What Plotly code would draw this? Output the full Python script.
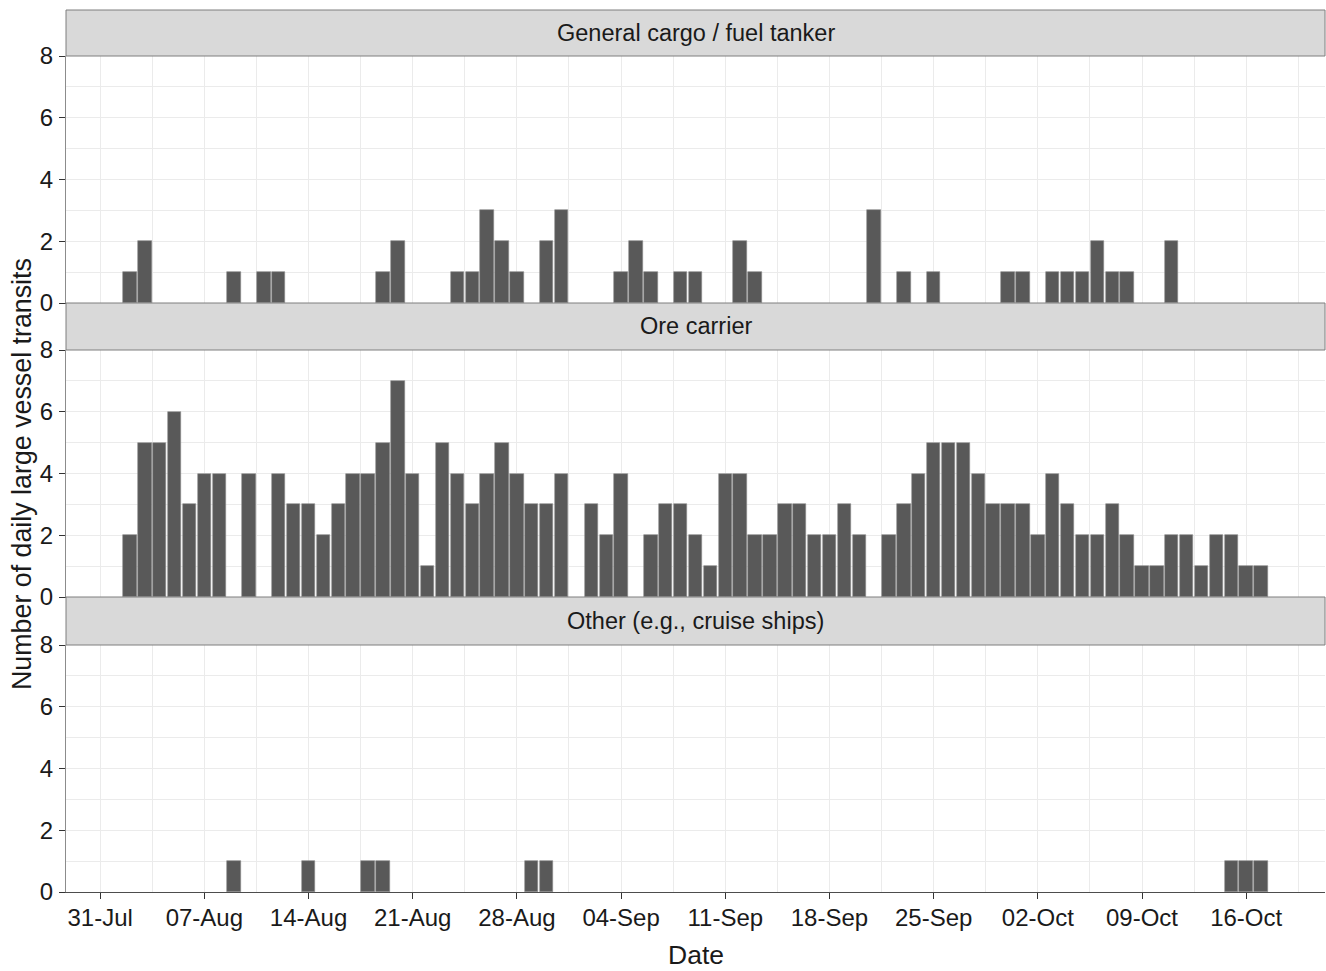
import pandas as pd
import plotly.graph_objects as go

# Daily large vessel transits, 2 Aug - 17 Oct
first_day = "2022-08-02"
panel_titles = ["General cargo / fuel tanker", "Ore carrier", "Other (e.g., cruise ships)"]

general_cargo_aug = [1, 2, 0, 0, 0, 0, 0, 1, 0, 1,
                     1, 0, 0, 0, 0, 0, 0, 1, 2, 0,
                     0, 0, 1, 1, 3, 2, 1, 0, 2, 3]
general_cargo_sep = [0, 0, 0, 1, 2, 1, 0, 1, 1, 0,
                     0, 2, 1, 0, 0, 0, 0, 0, 0, 0,
                     3, 0, 1, 0, 1, 0, 0, 0, 0, 1]
general_cargo_oct = [1, 0, 1, 1, 1, 2, 1, 1, 0, 0, 2, 0, 0, 0, 0, 0, 0]

ore_carrier_aug = [2, 5, 5, 6, 3, 4, 4, 0, 4, 0,
                   4, 3, 3, 2, 3, 4, 4, 5, 7, 4,
                   1, 5, 4, 3, 4, 5, 4, 3, 3, 4]
ore_carrier_sep = [0, 3, 2, 4, 0, 2, 3, 3, 2, 1,
                   4, 4, 2, 2, 3, 3, 2, 2, 3, 2,
                   0, 2, 3, 4, 5, 5, 5, 4, 3, 3]
ore_carrier_oct = [3, 2, 4, 3, 2, 2, 3, 2, 1, 1, 2, 2, 1, 2, 2, 1, 1]

other_aug = [0, 0, 0, 0, 0, 0, 0, 1, 0, 0,
             0, 0, 1, 0, 0, 0, 1, 1, 0, 0,
             0, 0, 0, 0, 0, 0, 0, 1, 1, 0]
other_sep = [0] * 30
other_oct = [0] * 14 + [1, 1, 1]

series = [
    general_cargo_aug + general_cargo_sep + general_cargo_oct,
    ore_carrier_aug + ore_carrier_sep + ore_carrier_oct,
    other_aug + other_sep + other_oct,
]

y_ticks = [0, 2, 4, 6, 8]
x_tick_start = "2022-07-31"

dates = pd.date_range(first_day, periods=len(series[0]), freq="D")
DAY_MS = 86400000
bar_width = 0.9 * DAY_MS

# x range with 5% padding around the bars
half = pd.Timedelta(hours=0.45 * 24)
lo = dates[0] - half
hi = dates[-1] + half
pad = (hi - lo) * 0.05
x_range = [lo - pad, hi + pad]

# Figure geometry (pixels from top of figure)
W, H = 1326, 971
top_m, bot_m, left_m, right_m = 10, 79, 66, 1
plot_h = H - top_m - bot_m
plot_w = W - left_m - right_m
strip_tops = [10, 303, 597]
panel_tops = [56, 350, 645]
panel_bots = [303, 597, 892]


def fy(px):
    """Pixel row -> paper fraction."""
    return (H - bot_m - px) / plot_h


FONT = "Liberation Sans, Arial, sans-serif"
TXT = "#1a1a1a"
GRID = "#EBEBEB"
BAR = "#595959"

fig = go.Figure()
layout = dict(
    width=W, height=H,
    margin=dict(l=left_m, r=right_m, t=top_m, b=bot_m, autoexpand=False),
    paper_bgcolor="white", plot_bgcolor="white",
    showlegend=False, bargap=0,
    font=dict(family=FONT, color=TXT),
)

shapes, annotations = [], []
for i, (title, vals) in enumerate(zip(panel_titles, series)):
    n = i + 1
    suffix = "" if n == 1 else str(n)
    d0, d1, s1 = fy(panel_bots[i]), fy(panel_tops[i]), fy(strip_tops[i])

    days = [d for d, v in zip(dates, vals) if v > 0]
    counts = [v for v in vals if v > 0]
    fig.add_trace(go.Bar(
        x=days, y=counts, width=bar_width,
        marker=dict(color=BAR, line=dict(color="#8a8a8a", width=0.6)),
        xaxis="x" + suffix, yaxis="y" + suffix,
        hovertemplate="%{x|%d-%b}: %{y}<extra></extra>",
    ))

    last = n == len(panel_titles)
    layout["xaxis" + suffix] = dict(
        type="date", range=x_range, domain=[0, 1], anchor="y" + suffix,
        tick0=x_tick_start, dtick=7 * DAY_MS, tickformat="%d-%b",
        showgrid=True, gridcolor=GRID, gridwidth=1.1,
        minor=dict(tick0=x_tick_start, dtick=3.5 * DAY_MS, showgrid=True,
                   gridcolor=GRID, gridwidth=0.55),
        showticklabels=last, ticks="outside" if last else "",
        ticklen=6, tickcolor="#333333", tickwidth=1.1,
        ticklabelstandoff=-2,
        tickfont=dict(size=24, color=TXT, family=FONT),
        showline=True, linecolor="#4d4d4d", linewidth=1.3,
        zeroline=False, fixedrange=True, automargin=False,
    )
    if not last:
        layout["xaxis" + suffix]["matches"] = "x3"
    layout["yaxis" + suffix] = dict(
        range=[0, 8], domain=[d0, d1], anchor="x" + suffix,
        tickvals=y_ticks, ticks="outside", ticklen=6,
        tickcolor="#333333", tickwidth=1.1,
        ticklabelstandoff=1,
        tickfont=dict(size=24, color=TXT, family=FONT),
        showgrid=True, gridcolor=GRID, gridwidth=1.1,
        minor=dict(dtick=1, showgrid=True, gridcolor=GRID, gridwidth=0.55),
        showline=True, linecolor="#8c8c8c", linewidth=1,
        zeroline=False, fixedrange=True, automargin=False,
    )

    # facet strip
    shapes.append(dict(type="rect", xref="paper", yref="paper",
                       x0=0, x1=1, y0=d1, y1=s1,
                       fillcolor="#D9D9D9", line=dict(color="#7f7f7f", width=1),
                       layer="above"))
    annotations.append(dict(text=title, xref="paper", yref="paper",
                            x=0.5, y=(d1 + s1) / 2, xanchor="center", yanchor="middle",
                            showarrow=False, font=dict(size=23.5, color=TXT, family=FONT)))

annotations.append(dict(text="Number of daily large vessel transits",
                        xref="paper", yref="paper",
                        x=(22 - left_m) / plot_w, y=fy(474),
                        textangle=-90, xanchor="center", yanchor="middle", showarrow=False,
                        font=dict(size=26.8, color=TXT, family=FONT)))
annotations.append(dict(text="Date", xref="paper", yref="paper",
                        x=0.5, y=fy(955),
                        xanchor="center", yanchor="middle", showarrow=False,
                        font=dict(size=26.5, color=TXT, family=FONT)))

layout["shapes"] = shapes
layout["annotations"] = annotations
fig.update_layout(**layout)
fig.write_html("out.html")
